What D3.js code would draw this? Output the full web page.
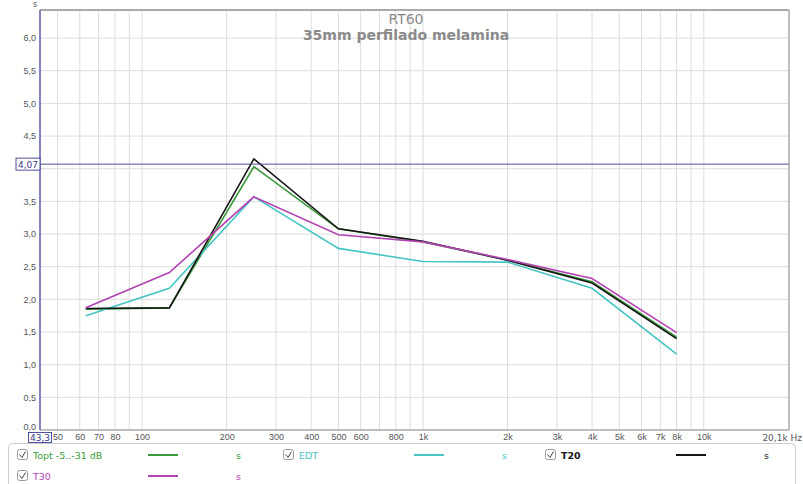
<!DOCTYPE html>
<html lang="en">
<head>
  <meta charset="UTF-8">
  <title>RT60 - 35mm perfilado melamina</title>
  <script src="https://d3js.org/d3.v7.min.js"></script>
  <style>
    body { font-family: "DejaVu Sans", Verdana, sans-serif; margin: 0; padding: 0; background: #fff; }
    svg { display: block; }
    .grid line { stroke: #dcdcdc; stroke-width: 1px; }
    .tick text { fill: #555; font-size: 9px; }
    .series { fill: none; stroke-width: 1.6px; stroke-linejoin: miter; }
    .legend text { font-size: 9.5px; }
  </style>
</head>
<body>
  <div id="chart"></div>

  <script>
    const width = 803;
    const height = 484;

    // octave band centres
    const freqs = [63, 125, 250, 500, 1000, 2000, 4000, 8000];
    const topt = [1.85, 1.87, 4.03, 3.08, 2.88, 2.60, 2.27, 1.42];
    const edt  = [1.75, 2.17, 3.57, 2.78, 2.58, 2.57, 2.17, 1.16];
    const t20  = [1.86, 1.87, 4.15, 3.08, 2.89, 2.60, 2.25, 1.40];
    const t30  = [1.87, 2.41, 3.57, 2.99, 2.88, 2.61, 2.32, 1.49];

    const xTickValues = [50, 60, 70, 80, 100, 200, 300, 400, 500, 600, 800, 1000, 2000, 3000, 4000, 5000, 6000, 7000, 8000, 10000];
    const xTickLabels = ["50", "60", "70", "80", "100", "200", "300", "400", "500", "600", "800", "1k", "2k", "3k", "4k", "5k", "6k", "7k", "8k", "10k"];
    const xGridValues = [50, 60, 70, 80, 90, 100, 200, 300, 400, 500, 600, 700, 800, 900, 1000, 2000, 3000, 4000, 5000, 6000, 7000, 8000, 9000, 10000];
    const yTickValues = [0, 0.5, 1, 1.5, 2, 2.5, 3, 3.5, 4, 4.5, 5, 5.5, 6];
    const cursorValue = 4.07;

    const legendItems = [
      { name: "Topt -5..-31 dB", color: "#3a9a3a", values: topt },
      { name: "EDT", color: "#45c4c4", values: edt },
      { name: "T20", color: "#151515", values: t20 },
      { name: "T30", color: "#b444b4", values: t30 }
    ];

    const plot = { left: 40, right: 789, top: 10, bottom: 430 };

    const x = d3.scaleLog().domain([43.3, 20100]).range([plot.left, plot.right]);
    const y = d3.scaleLinear().domain([0, 6.43]).range([plot.bottom, plot.top]);

    const svg = d3.select("#chart").append("svg")
      .attr("width", width)
      .attr("height", height);

    // grid
    svg.append("g").attr("class", "grid")
      .selectAll("line.v").data(xGridValues).enter().append("line")
      .attr("x1", d => x(d)).attr("x2", d => x(d))
      .attr("y1", plot.top).attr("y2", plot.bottom)
      .attr("stroke", "#e2e2e2");

    svg.append("g").attr("class", "grid")
      .selectAll("line.h").data(yTickValues.slice(1)).enter().append("line")
      .attr("x1", plot.left).attr("x2", plot.right)
      .attr("y1", d => y(d)).attr("y2", d => y(d));

    // frame
    svg.append("line").attr("x1", plot.left).attr("x2", plot.right)
      .attr("y1", plot.top).attr("y2", plot.top)
      .attr("stroke", "#aaa").attr("stroke-width", 2);
    svg.append("line").attr("x1", plot.left).attr("x2", plot.right)
      .attr("y1", plot.bottom).attr("y2", plot.bottom)
      .attr("stroke", "#aaa").attr("stroke-width", 1.5);
    svg.append("line").attr("x1", plot.right).attr("x2", plot.right)
      .attr("y1", plot.top).attr("y2", plot.bottom)
      .attr("stroke", "#aaa").attr("stroke-width", 1.5);

    // y axis
    const yAxis = d3.axisLeft(y).tickValues(yTickValues).tickSize(0).tickPadding(4)
      .tickFormat(d => d3.format(".1f")(d).replace(".", ","));
    svg.append("g").attr("transform", `translate(${plot.left},0)`).call(yAxis)
      .call(g => g.select(".domain").remove())
      .call(g => g.selectAll(".tick text").filter(d => d === 0).attr("dy", "-0.1em"))
      .call(g => g.selectAll(".tick").filter(d => d === 4).remove());
    svg.append("line").attr("x1", plot.left).attr("x2", plot.left)
      .attr("y1", plot.top).attr("y2", plot.bottom)
      .attr("stroke", "#5a5aa8").attr("stroke-width", 1.5);
    svg.append("text").attr("x", 35).attr("y", 7).attr("text-anchor", "middle")
      .attr("fill", "#555").attr("font-size", 8).text("s");

    // x axis
    const xAxis = d3.axisBottom(x).tickValues(xTickValues).tickSize(0).tickPadding(4)
      .tickFormat((d, i) => xTickLabels[i]);
    svg.append("g").attr("transform", `translate(0,${plot.bottom})`).call(xAxis)
      .call(g => g.select(".domain").remove());
    svg.append("text").attr("x", 802).attr("y", 441).attr("text-anchor", "end")
      .attr("fill", "#555").attr("font-size", 9).text("20,1k Hz");

    // series
    const line = d3.line().x(d => x(d[0])).y(d => y(d[1]));
    legendItems.forEach(s => {
      svg.append("path").attr("class", "series")
        .attr("d", line(freqs.map((f, i) => [f, s.values[i]])))
        .attr("stroke", s.color);
    });

    // cursor
    svg.append("line").attr("x1", plot.left).attr("x2", plot.right)
      .attr("y1", y(cursorValue)).attr("y2", y(cursorValue))
      .attr("stroke", "#4f4f8f").attr("stroke-width", 1);
    svg.append("rect").attr("x", 16).attr("y", y(cursorValue) - 6).attr("width", 24).attr("height", 12)
      .attr("fill", "#fff").attr("stroke", "#4f4f9f").attr("stroke-width", 1);
    svg.append("text").attr("x", 28).attr("y", y(cursorValue) + 3.5).attr("text-anchor", "middle")
      .attr("fill", "#3a3a8a").attr("font-size", 9).text("4,07");

    svg.append("rect").attr("x", 28.5).attr("y", 432.5).attr("width", 23).attr("height", 10)
      .attr("fill", "#fff").attr("stroke", "#4f4f9f").attr("stroke-width", 1);
    svg.append("text").attr("x", 40).attr("y", 441).attr("text-anchor", "middle")
      .attr("fill", "#3a3a8a").attr("font-size", 9).text("43,3");

    // title
    svg.append("text").attr("x", 406).attr("y", 24).attr("text-anchor", "middle")
      .attr("fill", "#8a8a8a").attr("font-size", 14).text("RT60");
    svg.append("text").attr("x", 406).attr("y", 40).attr("text-anchor", "middle")
      .attr("fill", "#8a8a8a").attr("font-size", 14).attr("font-weight", "bold")
      .text("35mm perfilado melamina");

    // legend
    const legend = svg.append("g").attr("class", "legend");
    legend.append("rect").attr("x", 8.5).attr("y", 443.5).attr("width", 787).attr("height", 45)
      .attr("rx", 4).attr("fill", "#fff").attr("stroke", "#ccc");

    const legendPos = [
      { x: 17, y: 455 }, { x: 283, y: 455 }, { x: 545, y: 455 }, { x: 17, y: 476 }
    ];
    legendItems.forEach((s, i) => {
      const p = legendPos[i];
      const g = legend.append("g").attr("transform", `translate(${p.x},${p.y})`);
      g.append("rect").attr("x", 0.5).attr("y", -5.5).attr("width", 10).attr("height", 10)
        .attr("rx", 2).attr("fill", "#fff").attr("stroke", "#999");
      g.append("path").attr("d", "M2.5,-0.5 L5,2.5 L8.5,-3.5").attr("fill", "none")
        .attr("stroke", "#444").attr("stroke-width", 1);
      g.append("text").attr("x", 16).attr("y", 3.5).attr("fill", s.color)
        .attr("font-weight", s.name === "T20" ? "bold" : "normal").text(s.name);
      g.append("line").attr("x1", 131).attr("x2", 161).attr("y1", 0).attr("y2", 0)
        .attr("stroke", s.color).attr("stroke-width", 2);
      g.append("text").attr("x", 219).attr("y", 4).attr("fill", s.color).text("s");
    });
  </script>
</body>
</html>
